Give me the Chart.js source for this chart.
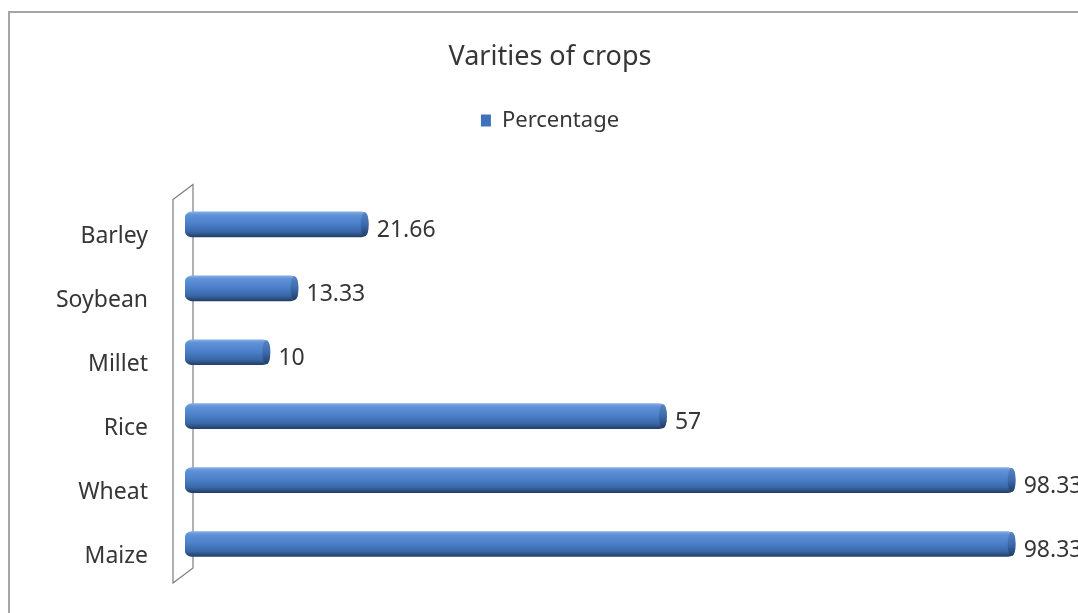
<!DOCTYPE html>
<html>
<head>
<meta charset="utf-8">
<script src="https://cdn.jsdelivr.net/npm/chart.js@4/dist/chart.umd.min.js"></script>
<style>
  html, body { margin: 0; padding: 0; background: #ffffff; }
  #wrap { width: 1078px; height: 613px; position: relative; }
</style>
</head>
<body>
<div id="wrap"><canvas id="c" width="1078" height="613"></canvas></div>
<script>
const categories = ['Barley', 'Soybean', 'Millet', 'Rice', 'Wheat', 'Maize'];
const percentage = [21.66, 13.33, 10, 57, 98.33, 98.33];
const valueLabels = ['21.66', '13.33', '10', '57', '98.33', '98.33'];
const seriesName = 'Percentage';
const chartTitle = 'Varities of crops';

const FONT = "'Noto Sans', 'Open Sans', sans-serif";
const TEXT = '#363636';
const SERIES_COLOR = '#3f72bd';

const framePlugin = {
  id: 'frame',
  beforeDraw(chart) {
    const ctx = chart.ctx;
    ctx.save();
    ctx.fillStyle = '#ffffff';
    ctx.fillRect(0, 0, chart.width, chart.height);
    ctx.strokeStyle = '#a6a6a6';
    ctx.lineWidth = 2;
    ctx.beginPath();
    ctx.moveTo(9, chart.height);
    ctx.lineTo(9, 12);
    ctx.lineTo(chart.width, 12);
    ctx.stroke();
    ctx.restore();
  }
};

const wallPlugin = {
  id: 'wall',
  beforeDatasetsDraw(chart) {
    const ctx = chart.ctx;
    const a = chart.chartArea;
    const x0 = chart.scales.x.getPixelForValue(0);
    const xl = x0 - 12, xr = x0 + 8;
    ctx.save();
    ctx.strokeStyle = '#7f7f7f';
    ctx.lineWidth = 1.2;
    ctx.beginPath();
    ctx.moveTo(xl, a.top + 7);
    ctx.lineTo(xr, a.top - 8);
    ctx.lineTo(xr, a.bottom - 8);
    ctx.lineTo(xl, a.bottom + 7);
    ctx.closePath();
    ctx.stroke();
    ctx.restore();
  }
};

function cylinderFill(c) {
  const chart = c.chart;
  const ys = chart.scales && chart.scales.y;
  if (c.type !== 'data' || !ys || ys.top === undefined) return SERIES_COLOR;
  const y = ys.getPixelForValue(c.dataIndex);
  const h = 25;
  const g = chart.ctx.createLinearGradient(0, y - h / 2, 0, y + h / 2);
  g.addColorStop(0, '#86ace2');
  g.addColorStop(0.12, '#5f92d8');
  g.addColorStop(0.5, '#4a7ec8');
  g.addColorStop(0.8, '#3966a4');
  g.addColorStop(1, '#223f69');
  return g;
}

const cylinderPlugin = {
  id: 'cylinder',
  afterDatasetsDraw(chart) {
    const ctx = chart.ctx;
    const meta = chart.getDatasetMeta(0);
    ctx.save();
    meta.data.forEach((el, i) => {
      const h = el.height;
      const g = ctx.createLinearGradient(0, el.y - h / 2, 0, el.y + h / 2);
      g.addColorStop(0, '#5a86c4');
      g.addColorStop(0.5, '#3d6aad');
      g.addColorStop(1, '#203a62');
      ctx.fillStyle = g;
      ctx.beginPath();
      ctx.ellipse(el.x - 3, el.y, 4, h / 2 - 0.5, 0, 0, Math.PI * 2);
      ctx.fill();
      ctx.fillStyle = TEXT;
      ctx.font = "23px " + FONT;
      ctx.textAlign = 'left';
      ctx.textBaseline = 'middle';
      ctx.fillText(valueLabels[i], el.x + 9, el.y + 6);
    });
    ctx.restore();
  }
};

new Chart(document.getElementById('c'), {
  type: 'bar',
  data: {
    labels: categories,
    datasets: [{
      label: seriesName,
      data: percentage,
      backgroundColor: cylinderFill,
      borderWidth: 0,
      borderRadius: 7,
      borderSkipped: false,
      barThickness: 25
    }]
  },
  options: {
    indexAxis: 'y',
    responsive: false,
    animation: false,
    devicePixelRatio: 1,
    layout: { padding: { left: 40, right: 18, top: 0, bottom: 37 } },
    scales: {
      x: {
        position: 'top',
        min: 0,
        max: 103.7,
        display: true,
        grid: { display: false, drawTicks: false },
        border: { display: false },
        ticks: { display: false },
        afterFit(scale) { scale.height = 51; scale.paddingLeft = 0; scale.paddingRight = 0; }
      },
      y: {
        grid: { display: false, drawTicks: false },
        border: { display: false },
        ticks: {
          color: TEXT,
          padding: 37,
          labelOffset: 12,
          font: { family: FONT, size: 23 }
        },
        afterFit(scale) { scale.width = 145; scale.paddingTop = 0; scale.paddingBottom = 0; }
      }
    },
    plugins: {
      title: {
        display: true,
        text: chartTitle,
        color: TEXT,
        font: { family: FONT, size: 27, weight: 'normal' },
        padding: { top: 41, bottom: 26 }
      },
      legend: {
        display: true,
        position: 'top',
        labels: {
          color: TEXT,
          font: { family: FONT, size: 22 },
          boxWidth: 10,
          boxHeight: 12,
          padding: 10,
          generateLabels(chart) {
            const items = Chart.defaults.plugins.legend.labels.generateLabels(chart);
            items.forEach(it => { it.fillStyle = SERIES_COLOR; it.strokeStyle = SERIES_COLOR; it.lineWidth = 0; });
            return items;
          }
        }
      },
      tooltip: { enabled: false }
    }
  },
  plugins: [framePlugin, wallPlugin, cylinderPlugin]
});
</script>
</body>
</html>
